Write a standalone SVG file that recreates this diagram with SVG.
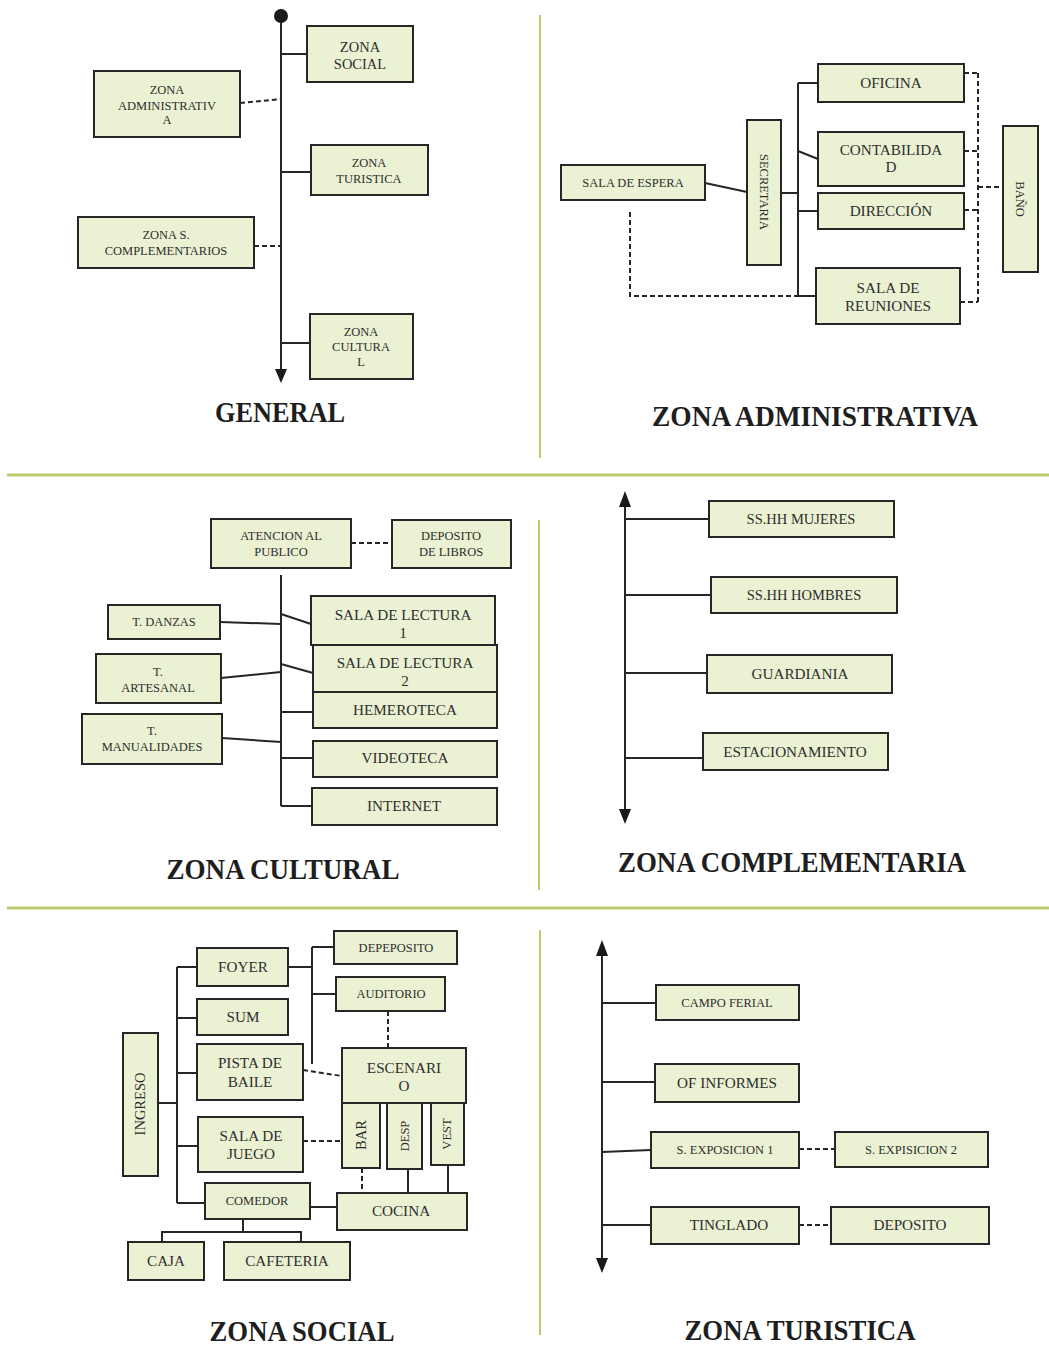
<svg xmlns="http://www.w3.org/2000/svg" width="1049" height="1349" viewBox="0 0 1049 1349">
<style>
.bx{fill:#ebf1d3;stroke:#262626;stroke-width:2}
.ln{stroke:#262626;stroke-width:2;fill:none}
.ds{stroke:#262626;stroke-width:2;fill:none;stroke-dasharray:5,3}
.sep{stroke:#b9cc6c;fill:none}
text{font-family:"Liberation Serif","Times New Roman",serif;fill:#2e2e2e;text-anchor:middle}
.s{font-size:12.5px}
.m{font-size:14.5px}
.l{font-size:15.2px}
.ttl{font-size:29px;font-weight:bold;fill:#1e1e1e}
.ah{fill:#1a1a1a}
</style>
<rect width="1049" height="1349" fill="#ffffff"/>

<g id="separators">
<line class="sep" x1="7" y1="475" x2="1049" y2="475" stroke-width="3"/>
<line class="sep" x1="7" y1="908" x2="1049" y2="908" stroke-width="3"/>
<line class="sep" x1="540" y1="15" x2="540" y2="458" stroke-width="2"/>
<line class="sep" x1="539" y1="520" x2="539" y2="890" stroke-width="2"/>
<line class="sep" x1="540" y1="930" x2="540" y2="1335" stroke-width="2"/>
</g>

<g id="titles">
<text class="ttl" x="280" y="422" textLength="130" lengthAdjust="spacingAndGlyphs">GENERAL</text>
<text class="ttl" x="815" y="426" textLength="326" lengthAdjust="spacingAndGlyphs">ZONA ADMINISTRATIVA</text>
<text class="ttl" x="283" y="879" textLength="233" lengthAdjust="spacingAndGlyphs">ZONA CULTURAL</text>
<text class="ttl" x="792" y="872" textLength="348" lengthAdjust="spacingAndGlyphs">ZONA COMPLEMENTARIA</text>
<text class="ttl" x="302" y="1341" textLength="185" lengthAdjust="spacingAndGlyphs">ZONA SOCIAL</text>
<text class="ttl" x="800" y="1340" textLength="231" lengthAdjust="spacingAndGlyphs">ZONA TURISTICA</text>
</g>

<g id="connectors">
<!-- General -->
<line class="ln" x1="281" y1="16" x2="281" y2="372"/>
<circle class="ah" cx="281" cy="16" r="7"/>
<polygon class="ah" points="275,369 287,369 281,383"/>
<line class="ln" x1="281" y1="54" x2="307" y2="54"/>
<line class="ds" x1="240" y1="103" x2="281" y2="99"/>
<line class="ln" x1="281" y1="172" x2="311" y2="172"/>
<line class="ds" x1="254" y1="246" x2="281" y2="246"/>
<line class="ln" x1="281" y1="343" x2="310" y2="343"/>
<!-- Administrativa -->
<line class="ln" x1="705" y1="183" x2="747" y2="192"/>
<line class="ln" x1="781" y1="193" x2="798" y2="193"/>
<line class="ln" x1="798" y1="83" x2="798" y2="296"/>
<line class="ln" x1="798" y1="83" x2="818" y2="83"/>
<line class="ln" x1="798" y1="151" x2="818" y2="159"/>
<line class="ln" x1="798" y1="211" x2="818" y2="211"/>
<line class="ln" x1="798" y1="296" x2="816" y2="296"/>
<polyline class="ds" points="630,212 630,296 798,296"/>
<line class="ds" x1="978" y1="73" x2="978" y2="302"/>
<line class="ds" x1="964" y1="73" x2="978" y2="73"/>
<line class="ds" x1="964" y1="151" x2="978" y2="151"/>
<line class="ds" x1="964" y1="210" x2="978" y2="210"/>
<line class="ds" x1="960" y1="302" x2="978" y2="302"/>
<line class="ds" x1="978" y1="187" x2="1003" y2="187"/>
<!-- Cultural -->
<line class="ds" x1="351" y1="543" x2="392" y2="543"/>
<line class="ln" x1="281" y1="575" x2="281" y2="806"/>
<line class="ln" x1="220" y1="622" x2="281" y2="624"/>
<line class="ln" x1="221" y1="678" x2="281" y2="672"/>
<line class="ln" x1="222" y1="738" x2="281" y2="742"/>
<line class="ln" x1="281" y1="614" x2="311" y2="624"/>
<line class="ln" x1="281" y1="664" x2="313" y2="673"/>
<line class="ln" x1="281" y1="712" x2="313" y2="712"/>
<line class="ln" x1="281" y1="758" x2="313" y2="758"/>
<line class="ln" x1="281" y1="806" x2="312" y2="806"/>
<!-- Complementaria -->
<line class="ln" x1="625" y1="500" x2="625" y2="815"/>
<polygon class="ah" points="619,507 631,507 625,491"/>
<polygon class="ah" points="619,809 631,809 625,824"/>
<line class="ln" x1="625" y1="519" x2="709" y2="519"/>
<line class="ln" x1="625" y1="595" x2="711" y2="595"/>
<line class="ln" x1="625" y1="673" x2="707" y2="673"/>
<line class="ln" x1="625" y1="758" x2="703" y2="758"/>
<!-- Social -->
<line class="ln" x1="158" y1="1103" x2="177" y2="1103"/>
<line class="ln" x1="177" y1="967" x2="177" y2="1203"/>
<line class="ln" x1="177" y1="967" x2="197" y2="967"/>
<line class="ln" x1="177" y1="1018" x2="197" y2="1018"/>
<line class="ln" x1="177" y1="1073" x2="197" y2="1073"/>
<line class="ln" x1="177" y1="1146" x2="198" y2="1146"/>
<line class="ln" x1="177" y1="1203" x2="205" y2="1203"/>
<line class="ln" x1="288" y1="967" x2="312" y2="967"/>
<line class="ln" x1="312" y1="947" x2="312" y2="1064"/>
<line class="ln" x1="312" y1="947" x2="334" y2="947"/>
<line class="ln" x1="312" y1="994" x2="336" y2="994"/>
<line class="ds" x1="388" y1="1011" x2="388" y2="1048"/>
<line class="ds" x1="303" y1="1070" x2="342" y2="1076"/>
<line class="ds" x1="303" y1="1141" x2="342" y2="1141"/>
<line class="ds" x1="362" y1="1168" x2="362" y2="1193"/>
<line class="ln" x1="408" y1="1169" x2="408" y2="1193"/>
<line class="ln" x1="448" y1="1165" x2="448" y2="1193"/>
<line class="ln" x1="310" y1="1207" x2="337" y2="1207"/>
<polyline class="ln" points="243,1219 243,1232"/>
<polyline class="ln" points="162,1242 162,1232 301,1232 301,1242"/>
<!-- Turistica -->
<line class="ln" x1="602" y1="950" x2="602" y2="1264"/>
<polygon class="ah" points="596,956 608,956 602,940"/>
<polygon class="ah" points="596,1258 608,1258 602,1273"/>
<line class="ln" x1="602" y1="1003" x2="656" y2="1003"/>
<line class="ln" x1="602" y1="1082" x2="655" y2="1082"/>
<line class="ln" x1="602" y1="1152" x2="651" y2="1150"/>
<line class="ln" x1="602" y1="1225" x2="651" y2="1225"/>
<line class="ds" x1="799" y1="1149" x2="835" y2="1149"/>
<line class="ds" x1="799" y1="1225" x2="831" y2="1225"/>
</g>

<!-- GENERAL nodes -->
<g id="g-social"><rect class="bx" x="307" y="26" width="106" height="56"/><text class="m" x="360" y="52">ZONA</text><text class="m" x="360" y="69">SOCIAL</text></g>
<g id="g-admin"><rect class="bx" x="94" y="71" width="146" height="66"/><text class="s" x="167" y="94">ZONA</text><text class="s" x="167" y="110">ADMINISTRATIV</text><text class="s" x="167" y="124">A</text></g>
<g id="g-turistica"><rect class="bx" x="311" y="145" width="117" height="50"/><text class="s" x="369" y="167">ZONA</text><text class="s" x="369" y="183">TURISTICA</text></g>
<g id="g-complem"><rect class="bx" x="78" y="217" width="176" height="51"/><text class="s" x="166" y="239">ZONA S.</text><text class="s" x="166" y="255">COMPLEMENTARIOS</text></g>
<g id="g-cultural"><rect class="bx" x="310" y="314" width="103" height="65"/><text class="s" x="361" y="336">ZONA</text><text class="s" x="361" y="351">CULTURA</text><text class="s" x="361" y="366">L</text></g>

<!-- ADMINISTRATIVA nodes -->
<g id="a-oficina"><rect class="bx" x="818" y="64" width="146" height="38"/><text class="l" x="891" y="88">OFICINA</text></g>
<g id="a-contab"><rect class="bx" x="818" y="132" width="146" height="54"/><text class="l" x="891" y="155">CONTABILIDA</text><text class="l" x="891" y="172">D</text></g>
<g id="a-direccion"><rect class="bx" x="818" y="193" width="146" height="36"/><text class="l" x="891" y="216">DIRECCIÓN</text></g>
<g id="a-reuniones"><rect class="bx" x="816" y="268" width="144" height="56"/><text class="l" x="888" y="293">SALA DE</text><text class="l" x="888" y="311">REUNIONES</text></g>
<g id="a-secretaria"><rect class="bx" x="747" y="120" width="34" height="145"/><text class="s" transform="translate(764,192) rotate(90)" x="0" y="4">SECRETARIA</text></g>
<g id="a-bano"><rect class="bx" x="1003" y="126" width="35" height="146"/><text class="s" transform="translate(1020,199) rotate(90)" x="0" y="4">BAÑO</text></g>
<g id="a-espera"><rect class="bx" x="561" y="165" width="144" height="35"/><text class="s" x="633" y="187">SALA DE ESPERA</text></g>

<!-- CULTURAL nodes -->
<g id="c-atencion"><rect class="bx" x="211" y="519" width="140" height="49"/><text class="s" x="281" y="540">ATENCION AL</text><text class="s" x="281" y="556">PUBLICO</text></g>
<g id="c-deposito"><rect class="bx" x="392" y="520" width="119" height="48"/><text class="s" x="451" y="540">DEPOSITO</text><text class="s" x="451" y="556">DE LIBROS</text></g>
<g id="c-sl1"><rect class="bx" x="311" y="596" width="184" height="49"/><text class="l" x="403" y="620">SALA DE LECTURA</text><text class="l" x="403" y="638">1</text></g>
<g id="c-sl2"><rect class="bx" x="313" y="645" width="184" height="47"/><text class="l" x="405" y="668">SALA DE LECTURA</text><text class="l" x="405" y="686">2</text></g>
<g id="c-hemeroteca"><rect class="bx" x="313" y="692" width="184" height="36"/><text class="l" x="405" y="715">HEMEROTECA</text></g>
<g id="c-videoteca"><rect class="bx" x="313" y="741" width="184" height="36"/><text class="l" x="405" y="763">VIDEOTECA</text></g>
<g id="c-internet"><rect class="bx" x="312" y="788" width="185" height="37"/><text class="l" x="404" y="811">INTERNET</text></g>
<g id="c-danzas"><rect class="bx" x="108" y="605" width="112" height="34"/><text class="s" x="164" y="626">T. DANZAS</text></g>
<g id="c-artesanal"><rect class="bx" x="96" y="654" width="125" height="49"/><text class="s" x="158" y="676">T.</text><text class="s" x="158" y="692">ARTESANAL</text></g>
<g id="c-manualidades"><rect class="bx" x="82" y="714" width="140" height="50"/><text class="s" x="152" y="735">T.</text><text class="s" x="152" y="751">MANUALIDADES</text></g>

<!-- COMPLEMENTARIA nodes -->
<g id="z-mujeres"><rect class="bx" x="709" y="501" width="185" height="36"/><text class="m" x="801" y="524">SS.HH MUJERES</text></g>
<g id="z-hombres"><rect class="bx" x="711" y="577" width="186" height="36"/><text class="m" x="804" y="600">SS.HH HOMBRES</text></g>
<g id="z-guardiania"><rect class="bx" x="707" y="655" width="185" height="38"/><text class="l" x="800" y="679">GUARDIANIA</text></g>
<g id="z-estacionamiento"><rect class="bx" x="703" y="733" width="185" height="37"/><text class="l" x="795" y="757">ESTACIONAMIENTO</text></g>

<!-- SOCIAL nodes -->
<g id="s-ingreso"><rect class="bx" x="123" y="1033" width="35" height="143"/><text class="m" transform="translate(140,1104) rotate(-90)" x="0" y="5">INGRESO</text></g>
<g id="s-foyer"><rect class="bx" x="197" y="948" width="91" height="38"/><text class="l" x="243" y="972">FOYER</text></g>
<g id="s-sum"><rect class="bx" x="197" y="999" width="91" height="36"/><text class="l" x="243" y="1022">SUM</text></g>
<g id="s-pista"><rect class="bx" x="197" y="1044" width="106" height="56"/><text class="l" x="250" y="1068">PISTA DE</text><text class="l" x="250" y="1087">BAILE</text></g>
<g id="s-juego"><rect class="bx" x="198" y="1117" width="105" height="55"/><text class="l" x="251" y="1141">SALA DE</text><text class="l" x="251" y="1159">JUEGO</text></g>
<g id="s-comedor"><rect class="bx" x="205" y="1183" width="105" height="36"/><text class="s" x="257" y="1205">COMEDOR</text></g>
<g id="s-caja"><rect class="bx" x="128" y="1242" width="76" height="38"/><text class="l" x="166" y="1266">CAJA</text></g>
<g id="s-cafeteria"><rect class="bx" x="224" y="1242" width="126" height="38"/><text class="l" x="287" y="1266">CAFETERIA</text></g>
<g id="s-depeposito"><rect class="bx" x="334" y="931" width="123" height="33"/><text class="s" x="396" y="952">DEPEPOSITO</text></g>
<g id="s-auditorio"><rect class="bx" x="336" y="977" width="109" height="34"/><text class="s" x="391" y="998">AUDITORIO</text></g>
<g id="s-escenario"><rect class="bx" x="342" y="1048" width="124" height="55"/><text class="l" x="404" y="1073">ESCENARI</text><text class="l" x="404" y="1091">O</text></g>
<g id="s-bar"><rect class="bx" x="342" y="1103" width="38" height="65"/><text class="m" transform="translate(361,1135) rotate(-90)" x="0" y="5">BAR</text></g>
<g id="s-desp"><rect class="bx" x="387" y="1103" width="35" height="66"/><text class="s" transform="translate(405,1136) rotate(-90)" x="0" y="4">DESP</text></g>
<g id="s-vest"><rect class="bx" x="431" y="1103" width="33" height="62"/><text class="s" transform="translate(447,1134) rotate(-90)" x="0" y="4">VEST</text></g>
<g id="s-cocina"><rect class="bx" x="337" y="1193" width="130" height="37"/><text class="l" x="401" y="1216">COCINA</text></g>

<!-- TURISTICA nodes -->
<g id="t-campo"><rect class="bx" x="656" y="985" width="143" height="35"/><text class="s" x="727" y="1007">CAMPO FERIAL</text></g>
<g id="t-informes"><rect class="bx" x="655" y="1064" width="144" height="38"/><text class="l" x="727" y="1088">OF INFORMES</text></g>
<g id="t-expo1"><rect class="bx" x="651" y="1132" width="148" height="36"/><text class="s" x="725" y="1154">S. EXPOSICION 1</text></g>
<g id="t-expo2"><rect class="bx" x="835" y="1132" width="153" height="35"/><text class="s" x="911" y="1154">S. EXPISICION 2</text></g>
<g id="t-tinglado"><rect class="bx" x="651" y="1207" width="148" height="37"/><text class="l" x="729" y="1230">TINGLADO</text></g>
<g id="t-deposito"><rect class="bx" x="831" y="1207" width="158" height="37"/><text class="l" x="910" y="1230">DEPOSITO</text></g>
</svg>
